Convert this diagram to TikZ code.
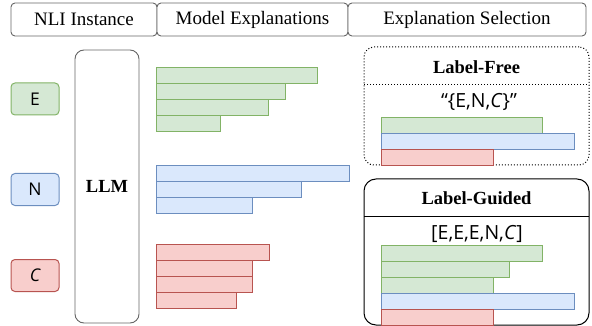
\documentclass[tikz,border=0pt]{standalone}
\usepackage{fontspec}
\setmainfont{Liberation Serif}
\newfontfamily\hand{Open Sans}
\begin{document}
\begin{tikzpicture}[x=1pt,y=-1pt,
  hdr/.style={draw=black!60, line width=0.9pt, rounded corners=4pt, fill=white, inner sep=0pt, font=\fontsize{19}{21}\selectfont},
  lbl/.style={line width=1pt, rounded corners=4pt, inner sep=0pt, font=\hand\fontsize{17.5}{19}\selectfont},
  gbar/.style={draw=gstroke, fill=gfill, line width=1.2pt, anchor=north west, inner sep=0pt, minimum height=16pt},
  bbar/.style={draw=bstroke, fill=bfill, line width=1.2pt, anchor=north west, inner sep=0pt, minimum height=16pt},
  rbar/.style={draw=rstroke, fill=rfill, line width=1.2pt, anchor=north west, inner sep=0pt, minimum height=16pt},
  ttl/.style={font=\bfseries\fontsize{18.5}{20}\selectfont, inner sep=0pt},
  seq/.style={font=\hand\fontsize{19.5}{21}\selectfont, inner sep=0pt}
]
\definecolor{gfill}{HTML}{D5E8D4}\definecolor{gstroke}{HTML}{82B366}
\definecolor{bfill}{HTML}{DAE8FC}\definecolor{bstroke}{HTML}{6C8EBF}
\definecolor{rfill}{HTML}{F8CECC}\definecolor{rstroke}{HTML}{B85450}
\useasboundingbox (0,0) rectangle (592,326);

% headers
\node[hdr, minimum width=146pt, minimum height=33pt] (h1) at (84,19.5) {NLI Instance};
\node[hdr, minimum width=191pt, minimum height=33pt] (h2) at (252.5,19.5) {Model Explanations};
\node[hdr, minimum width=238pt, minimum height=33pt] (h3) at (467,19.5) {Explanation Selection};

% labels
\node[lbl, draw=gstroke, fill=gfill, minimum width=48pt, minimum height=32pt] (e) at (35,99) {E};
\node[lbl, draw=bstroke, fill=bfill, minimum width=48pt, minimum height=32pt] (n) at (35,189.5) {N};
\node[lbl, draw=rstroke, fill=rfill, minimum width=48pt, minimum height=32pt] (c) at (35,275.5) {\itshape C};

% LLM
\node[draw=black!60, line width=0.9pt, rounded corners=9pt, minimum width=64pt, minimum height=273pt, inner sep=0pt, font=\bfseries\fontsize{18.5}{20}\selectfont] (llm) at (107,186.5) {LLM};

% model explanations
\node[gbar, minimum width=161pt] (g1) at (156,67) {};
\node[gbar, minimum width=129pt] (g2) at (156,83) {};
\node[gbar, minimum width=112pt] (g3) at (156,99) {};
\node[gbar, minimum width=64pt] (g4) at (156,115) {};
\node[bbar, minimum width=193pt] (b1) at (156,165) {};
\node[bbar, minimum width=145pt] (b2) at (156,181) {};
\node[bbar, minimum width=96pt] (b3) at (156,197) {};
\node[rbar, minimum width=113pt] (r1) at (156,243.5) {};
\node[rbar, minimum width=96pt] (r2) at (156,260) {};
\node[rbar, minimum width=96pt] (r3) at (156,276) {};
\node[rbar, minimum width=80pt] (r4) at (156,292) {};

% Label-Free
\node[draw=black, dotted, line width=1pt, rounded corners=10pt, minimum width=225pt, minimum height=118pt, inner sep=0pt] (lf) at (476.5,106) {};
\coordinate (lfl) at (364,85);
\coordinate (lfr) at (589,85);
\draw[black, dotted, line width=1pt] (lfl) -- (lfr);
\node[ttl] (lft) at (476.5,67) {Label-Free};
\node[seq] (lfs) at (479,102) {\char"201C\{E,N,\textit{C}\}\char"201D};
\node[gbar, minimum width=161pt] (lg) at (381,117) {};
\node[bbar, minimum width=193pt] (lb) at (381,133) {};
\node[rbar, minimum width=112pt] (lr) at (381,149) {};

% Label-Guided
\node[draw=black, line width=1pt, rounded corners=12pt, minimum width=225pt, minimum height=146pt, inner sep=0pt] (lgd) at (476.5,252) {};
\coordinate (lgl) at (364,216);
\coordinate (lgr) at (589,216);
\draw[black, line width=1pt] (lgl) -- (lgr);
\node[ttl] (lgt) at (476.5,198) {Label-Guided};
\node[seq] (lgs) at (477,234) {[E,E,E,N,\textit{C}]};
\node[gbar, minimum width=161pt] (m1) at (381,245) {};
\node[gbar, minimum width=128pt] (m2) at (381,261) {};
\node[gbar, minimum width=112pt] (m3) at (381,277) {};
\node[bbar, minimum width=193pt] (m4) at (381,293) {};
\node[rbar, minimum width=112pt] (m5) at (381,309) {};
\end{tikzpicture}
\end{document}
